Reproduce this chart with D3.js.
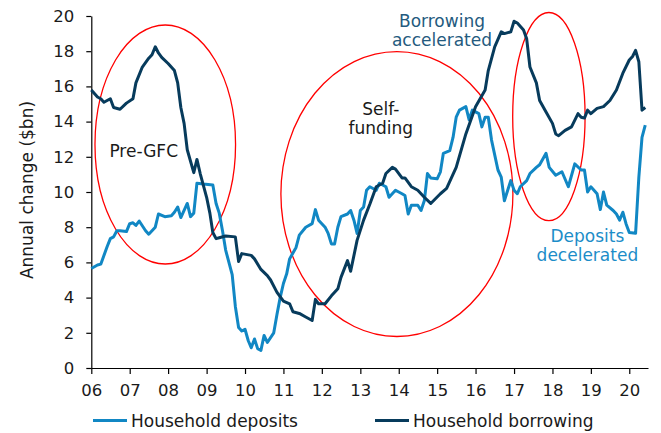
<!DOCTYPE html>
<html>
<head>
<meta charset="utf-8">
<script src="https://cdn.jsdelivr.net/npm/d3@7"></script>
<style>
  body { margin: 0; background: #fff; }
  svg { font-family: "DejaVu Sans", Verdana, sans-serif; }
</style>
</head>
<body>
<svg id="chart"></svg>
<script>
// household deposits, annual change ($bn)
const depositMonths = ["2006-01","2006-03","2006-04","2006-06","2006-07","2006-08","2006-09","2006-10","2006-12",
  "2007-01","2007-02","2007-03","2007-04","2007-06","2007-07","2007-09","2007-10","2007-12",
  "2008-02","2008-03","2008-04","2008-05","2008-07","2008-08","2008-09","2008-10","2008-12",
  "2009-03","2009-04","2009-05","2009-06","2009-07","2009-09","2009-10","2009-11","2009-12",
  "2010-01","2010-02","2010-03","2010-04","2010-05","2010-06","2010-07","2010-08","2010-10","2010-11","2010-12",
  "2011-01","2011-02","2011-03","2011-05","2011-06","2011-08","2011-10","2011-11","2011-12",
  "2012-01","2012-02","2012-03","2012-04","2012-05","2012-06","2012-07","2012-09","2012-10","2012-11","2012-12",
  "2013-01","2013-02","2013-03","2013-04","2013-06","2013-07","2013-09","2013-10","2013-12",
  "2014-02","2014-03","2014-04","2014-05","2014-07","2014-08","2014-09","2014-10","2014-11",
  "2015-01","2015-02","2015-03","2015-05","2015-06","2015-07","2015-08","2015-10","2015-11","2015-12",
  "2016-02","2016-03","2016-04","2016-05","2016-06","2016-08","2016-09","2016-10","2016-12",
  "2017-01","2017-02","2017-03","2017-05","2017-06","2017-08","2017-09","2017-11","2017-12",
  "2018-02","2018-04","2018-06","2018-08","2018-10","2018-11","2018-12",
  "2019-01","2019-03","2019-04","2019-05","2019-06","2019-08","2019-09","2019-10","2019-11","2019-12",
  "2020-01","2020-03","2020-04","2020-05","2020-06"];
const depositValues = [5.65,5.85,5.9,6.9,7.35,7.45,7.8,7.8,7.75,
  8.2,8.25,8.1,8.35,7.8,7.6,8.0,8.75,8.6,
  8.65,8.85,9.15,8.55,9.35,8.6,8.8,10.5,10.45,
  10.4,9.35,8.8,7.8,6.7,5.3,3.5,2.3,2.1,
  2.2,1.55,1.15,1.65,1.1,1.0,1.85,1.45,2.0,3.05,4.0,
  4.8,5.35,6.2,6.85,7.55,8.0,8.2,9.0,8.4,
  8.2,8.0,7.65,7.05,7.05,8.0,8.6,8.75,8.95,8.4,7.65,
  8.95,9.15,10.1,10.3,10.1,10.5,10.3,9.7,10.1,
  9.9,9.8,8.75,9.25,9.25,8.95,9.5,11.05,10.8,
  10.75,11.15,12.2,12.35,13.1,14.25,14.65,14.85,14.1,14.65,
  14.45,13.7,14.25,14.25,12.95,11.25,10.85,9.5,10.65,
  10.1,9.9,10.3,10.65,11.05,11.4,11.55,12.2,11.4,
  10.95,11.15,10.3,11.6,11.25,11.25,10.0,
  10.3,9.9,9.0,10.0,9.25,8.95,8.75,8.4,8.85,8.2,
  7.7,7.65,10.85,13.1,13.8];

// household borrowing, annual change ($bn)
const borrowMonths = ["2006-01","2006-03","2006-04","2006-05","2006-07","2006-08","2006-10","2006-12",
  "2007-02","2007-03","2007-05","2007-07","2007-08","2007-09","2007-10","2007-11",
  "2008-01","2008-03","2008-04","2008-05","2008-06","2008-07","2008-09","2008-10","2008-11",
  "2009-01","2009-02","2009-03","2009-04","2009-05","2009-07","2009-10","2009-11","2009-12",
  "2010-03","2010-04","2010-06","2010-08","2010-09","2010-11",
  "2011-01","2011-03","2011-04","2011-06","2011-08","2011-10","2011-11","2011-12",
  "2012-02","2012-04","2012-06","2012-07","2012-09","2012-10","2012-12",
  "2013-02","2013-04","2013-06","2013-08","2013-09","2013-11","2013-12",
  "2014-02","2014-03","2014-05","2014-07","2014-09","2014-11",
  "2015-02","2015-04","2015-07","2015-10",
  "2016-01","2016-04","2016-05","2016-07","2016-09","2016-10","2016-12",
  "2017-01","2017-02","2017-04","2017-05","2017-06","2017-08","2017-09","2017-11",
  "2018-01","2018-02","2018-03","2018-05","2018-07","2018-09","2018-10","2018-11","2018-12",
  "2019-01","2019-03","2019-05","2019-07","2019-09","2019-11",
  "2020-01","2020-02","2020-03","2020-04","2020-05","2020-06"];
const borrowValues = [15.8,15.4,15.3,15.1,15.3,14.8,14.7,15.05,
  15.3,16.2,17.1,17.6,17.8,18.25,17.9,17.65,
  17.3,16.9,16.2,14.8,13.9,12.4,11.1,11.85,11.05,
  9.7,8.8,7.7,7.35,7.4,7.5,7.45,6.05,6.5,
  6.4,6.2,5.6,5.25,5.0,4.3,
  3.8,3.65,3.2,3.1,2.9,2.7,3.9,3.65,
  3.65,4.1,4.5,5.15,6.1,5.5,7.25,
  8.4,9.3,10.3,10.5,11.05,11.4,11.3,
  10.8,10.8,10.3,10.1,9.7,9.35,
  9.9,10.2,11.4,13.3,
  14.85,15.8,16.9,18.25,19.1,19.0,19.1,
  19.7,19.6,19.2,18.7,17.1,16.2,15.2,14.55,
  13.9,13.3,13.2,13.5,13.7,14.45,14.25,14.2,14.65,
  14.45,14.75,14.85,15.2,15.8,16.75,
  17.5,17.7,18.05,17.4,14.65,14.8];

const yearLabels = ["06","07","08","09","10","11","12","13","14","15","16","17","18","19","20"];
const yTicks = [0, 2, 4, 6, 8, 10, 12, 14, 16, 18, 20];
const seriesNames = ["Household deposits", "Household borrowing"];

const width = 661, height = 433;
const colDeposit = "#1187c4", colBorrow = "#073b5c";

const parseMonth = d3.timeParse("%Y-%m");
const parseDay = d3.timeParse("%Y-%m-%d");

const deposits = depositMonths.map((m, i) => ({date: parseMonth(m), value: depositValues[i]}));
const borrowing = borrowMonths.map((m, i) => ({date: parseMonth(m), value: borrowValues[i]}));

const x = d3.scaleTime()
  .domain([parseMonth("2006-01"), parseDay("2020-06-27")])
  .range([91.3, 648]);
const y = d3.scaleLinear().domain([0, 20]).range([368, 16]);

const svg = d3.select('#chart').attr('width', width).attr('height', height);

// x axis
let gx = svg.append('g')
  .attr('transform', `translate(0,${y(0)})`)
  .call(d3.axisBottom(x)
    .tickValues(yearLabels.map(d => new Date(2000 + +d, 0, 1)))
    .tickFormat((d, i) => yearLabels[i])
    .tickSizeInner(6).tickSizeOuter(0).tickPadding(10));

// y axis
let gy = svg.append('g')
  .attr('transform', `translate(${x.range()[0]},0)`)
  .call(d3.axisLeft(y).tickValues(yTicks).tickSizeInner(5).tickSizeOuter(0).tickPadding(12));

[gx, gy].forEach(g => {
  g.attr('font-family', null).attr('font-size', null);
  g.selectAll('text').style('font-size', '16.5px').attr('fill', '#1a1a1a');
  g.selectAll('path, line').attr('stroke', '#000').attr('stroke-width', 1.2);
});

svg.append('text')
  .attr('transform', 'translate(32.5,190) rotate(-90)')
  .attr('text-anchor', 'middle')
  .style('font-size', '17px')
  .attr('fill', '#1a1a1a')
  .text('Annual change ($bn)');

// ellipses (bounding boxes in data units)
const rings = [
  {x0: "2006-02-05", x1: "2009-10-03", top: 19.49, bottom: 5.91},
  {x0: "2010-12-08", x1: "2016-12-21", top: 17.98, bottom: 1.79},
  {x0: "2016-12-19", x1: "2018-11-07", top: 20.2, bottom: 8.37}
];
svg.selectAll('ellipse').data(rings).enter().append('ellipse')
  .attr('cx', d => (x(parseDay(d.x0)) + x(parseDay(d.x1))) / 2)
  .attr('cy', d => (y(d.top) + y(d.bottom)) / 2)
  .attr('rx', d => (x(parseDay(d.x1)) - x(parseDay(d.x0))) / 2)
  .attr('ry', d => (y(d.bottom) - y(d.top)) / 2)
  .attr('fill', 'none')
  .attr('stroke', '#ff0000')
  .attr('stroke-width', 1.3);

// lines
const line = d3.line().x(d => x(d.date)).y(d => y(d.value));
svg.append('path').datum(deposits)
  .attr('d', line).attr('fill', 'none')
  .attr('stroke', colDeposit).attr('stroke-width', 3).attr('stroke-linejoin', 'round');
svg.append('path').datum(borrowing)
  .attr('d', line).attr('fill', 'none')
  .attr('stroke', colBorrow).attr('stroke-width', 3).attr('stroke-linejoin', 'round');

// annotations
const notes = [
  {date: "2007-05-14", value: 12.0, lines: ["Pre-GFC"], color: "#1a1a1a"},
  {date: "2013-07-15", value: 14.38, lines: ["Self-", "funding"], color: "#1a1a1a"},
  {date: "2015-02-16", value: 19.39, lines: ["Borrowing", "accelerated"], color: "#245a7e"},
  {date: "2018-11-29", value: 7.18, lines: ["Deposits", "decelerated"], color: "#1c8dc8"}
];
notes.forEach(n => {
  let t = svg.append('text')
    .attr('text-anchor', 'middle')
    .style('font-size', '17px')
    .attr('fill', n.color);
  n.lines.forEach((s, i) => {
    t.append('tspan')
      .attr('x', x(parseDay(n.date)))
      .attr('y', y(n.value) + i * 19)
      .text(s);
  });
});

// legend
const legend = svg.append('g');
[{x: 93, col: colDeposit}, {x: 375, col: colBorrow}].forEach((d, i) => {
  legend.append('line')
    .attr('x1', d.x).attr('x2', d.x + 34)
    .attr('y1', 420.5).attr('y2', 420.5)
    .attr('stroke', d.col).attr('stroke-width', 3);
  legend.append('text')
    .attr('x', d.x + 38).attr('y', 426.5)
    .style('font-size', '17px')
    .attr('fill', '#1a1a1a')
    .text(seriesNames[i]);
});
</script>
</body>
</html>
